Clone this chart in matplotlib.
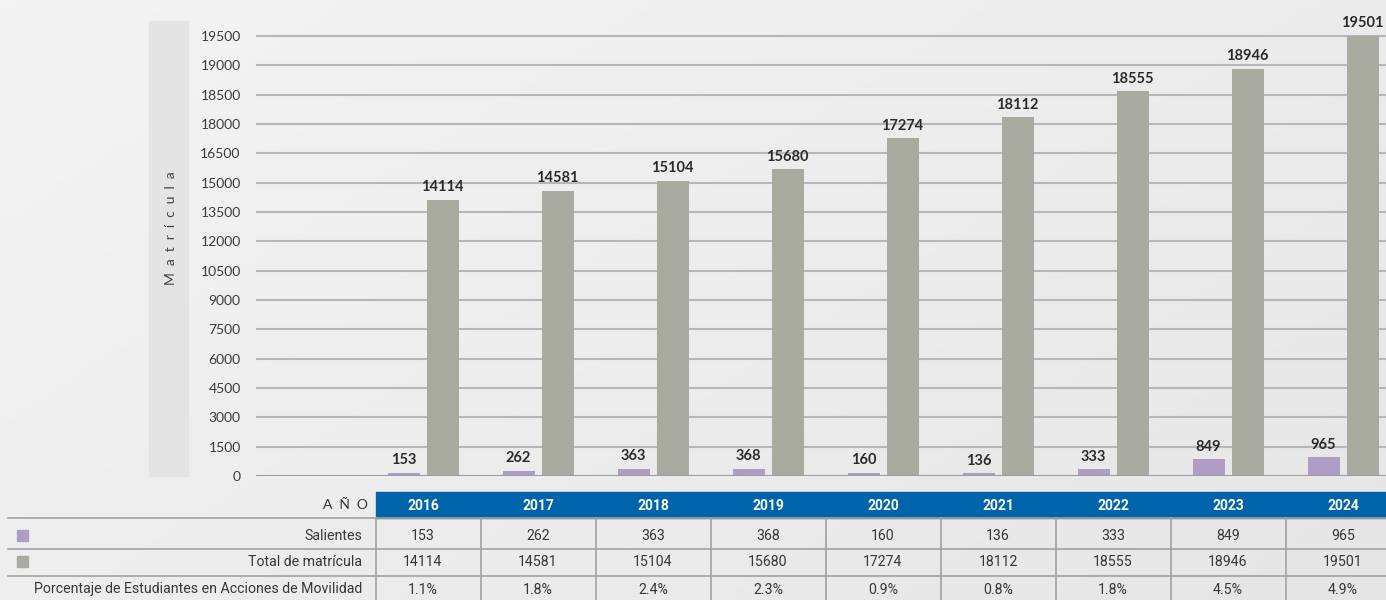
import matplotlib.pyplot as plt
import matplotlib.patches as mpatches
import numpy as np

# data
years = ['2016', '2017', '2018', '2019', '2020', '2021', '2022', '2023', '2024']
salientes = [153, 262, 363, 368, 160, 136, 333, 849, 965]
total = [14114, 14581, 15104, 15680, 17274, 18112, 18555, 18946, 19501]
porcentaje = ['1.1%', '1.8%', '2.4%', '2.3%', '0.9%', '0.8%', '1.8%', '4.5%', '4.9%']
row_names = ['Salientes', 'Total de matrícula',
             'Porcentaje de Estudiantes en Acciones de Movilidad']
# the axis is not linear: labels are equally spaced
yticks = [0, 1500, 3000, 4500, 6000, 7500, 9000, 10500, 12000, 13500,
          15000, 16500, 18000, 18500, 19000, 19500]

c_sal = '#ae9dc4'
c_tot = '#a9aaa0'
c_blue = '#0064ab'
c_text = '#2b2b2b'

W, H = 1386, 600

def fx(x):
    return x / W

def fy(y):
    return 1 - y / H

scale_vals = np.array(yticks + [20000], dtype=float)
scale_idx = np.arange(len(scale_vals), dtype=float)

def fwd(v):
    return np.interp(v, scale_vals, scale_idx)

def inv(i):
    return np.interp(i, scale_idx, scale_vals)

fig = plt.figure(figsize=(W / 100, H / 100), dpi=100)

# background gradient
bg = fig.add_axes([0, 0, 1, 1], zorder=-10)
gx, gy = np.meshgrid(np.linspace(0, 1, 200), np.linspace(0, 1, 100))
g = (gx * 0.6 + gy * 0.4)
bg.imshow(g, cmap=plt.matplotlib.colors.LinearSegmentedColormap.from_list('bg', ['#f4f4f4', '#e6e6e6']),
          aspect='auto', extent=[0, 1, 0, 1], origin='upper')
bg.axis('off')

# y label panel
fig.patches.append(mpatches.Rectangle((fx(149), fy(476)), fx(188 - 149), (476 - 21) / H,
                                      transform=fig.transFigure, color='#e4e4e4', zorder=-5))
fig.text(fx(171), fy(228), 'M  a  t  r  í  c  u  l  a', rotation=90, ha='center', va='center',
         fontsize=10, color='#444444', family='Lato')

# chart
ax = fig.add_axes([fx(256), fy(476), fx(1386 - 256), (476 - 21) / H])
ax.set_facecolor('none')
ax.set_yscale('function', functions=(fwd, inv))
ax.set_ylim(0, 19756)
x0 = 423
step = 115
ax.set_xlim((256 - x0) / step, (1386 - x0) / step)
x = np.arange(len(years))
bw = 32 / step
gap = 7 / step
b1 = ax.bar(x - (bw + gap) / 2, salientes, width=bw, color=c_sal, zorder=3)
b2 = ax.bar(x + (bw + gap) / 2, total, width=bw, color=c_tot, zorder=3)
for bars, vals in ((b1, salientes), (b2, total)):
    for b, v in zip(bars, vals):
        ax.annotate(str(v), (b.get_x() + b.get_width() / 2, v), xytext=(0, 4),
                    textcoords='offset points', ha='center', va='bottom',
                    fontsize=10.5, fontweight='bold', color=c_text, family='Lato')

ax.set_yticks(yticks)
ax.set_yticklabels([str(t) for t in yticks], fontsize=10, color='#3a3a3a', family='Lato')
ax.tick_params(axis='y', length=0, pad=11)
ax.set_xticks([])
for t in yticks[1:]:
    ax.axhline(t, color='#b6b7ba', lw=1.5, zorder=1)
ax.axhline(0, color='#9a9da2', lw=1.5, zorder=4)
for s in ax.spines.values():
    s.set_visible(False)

# table
tab = fig.add_axes([0, 0, 1, (600 - 480) / H])
tab.set_xlim(0, W)
tab.set_ylim(600, 480)
tab.axis('off')
tab.set_facecolor('none')

centers = x0 + step * x
bounds = [376] + list((centers[:-1] + centers[1:]) / 2) + [W]
tab.add_patch(mpatches.Rectangle((376, 492), W - 376, 26, color=c_blue, zorder=2))
tab.text(368, 505, 'A  Ñ  O', ha='right', va='center', fontsize=10, color='#333333', family='Lato')
for i, yr in enumerate(years):
    tab.text(centers[i], 505.5, yr, ha='center', va='center', fontsize=10,
             fontweight='bold', color='white', family='Roboto')

for yl in (518, 549, 576):
    tab.plot([8, W], [yl, yl], color='#a2a2a2', lw=1.2, zorder=3)
for xb in bounds[:-1]:
    tab.plot([xb, xb], [518, 600], color='#a2a2a2', lw=1.2, zorder=3)

row_y = [536, 562.5, 589.5]
row_vals = [[str(v) for v in salientes], [str(v) for v in total], porcentaje]
for r in range(3):
    tab.text(362, row_y[r], row_names[r], ha='right', va='center', fontsize=10.2,
             color='#383838', family='Roboto')
    for i in range(len(years)):
        tab.text(centers[i], row_y[r], row_vals[r][i], ha='center', va='center',
                 fontsize=10.2, color='#383838', family='Roboto')
tab.add_patch(mpatches.Rectangle((17, 530), 11, 11, color=c_sal, zorder=3))
tab.add_patch(mpatches.Rectangle((17, 556), 11, 11, color=c_tot, zorder=3))

fig.savefig('out.png', dpi=100, facecolor=fig.get_facecolor())
